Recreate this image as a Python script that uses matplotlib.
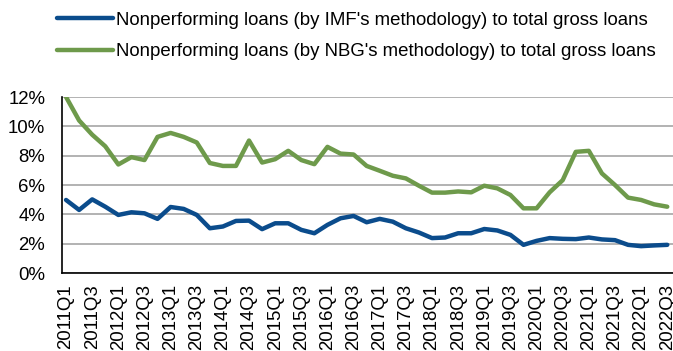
import numpy as np
import matplotlib.pyplot as plt

plt.rcParams["font.family"] = ["Liberation Sans", "DejaVu Sans"]

quarters = [f"{y}Q{q}" for y in range(2011, 2023) for q in range(1, 5)][:47]

npl_imf = [4.98, 4.30, 5.02, 4.52, 3.96, 4.14, 4.07, 3.69, 4.50, 4.37,
           3.96, 3.05, 3.17, 3.55, 3.57, 2.99, 3.39, 3.39, 2.94, 2.71,
           3.28, 3.73, 3.89, 3.46, 3.69, 3.50, 3.05, 2.76, 2.38, 2.42,
           2.71, 2.71, 3.00, 2.90, 2.60, 1.92, 2.19, 2.38, 2.33, 2.31,
           2.42, 2.29, 2.24, 1.92, 1.83, 1.88, 1.92]

npl_nbg = [12.00, 10.40, 9.43, 8.64, 7.40, 7.90, 7.70, 9.28, 9.55, 9.28,
           8.90, 7.50, 7.30, 7.30, 9.03, 7.53, 7.76, 8.33, 7.70, 7.42,
           8.60, 8.14, 8.08, 7.30, 6.97, 6.63, 6.45, 5.95, 5.48, 5.48,
           5.56, 5.50, 5.95, 5.77, 5.32, 4.41, 4.41, 5.50, 6.33, 8.26,
           8.33, 6.79, 6.00, 5.14, 4.98, 4.68, 4.52]

blue = "#0B4C8C"
green = "#6E9A4B"
fs = 13.4

fig = plt.figure(figsize=(6.73, 3.51), dpi=100)
ax = fig.add_axes([62 / 673, 1 - 273 / 351, 611 / 673, 176 / 351])

x = np.arange(len(quarters))
ax.plot(x, npl_imf, color=blue, lw=3.2, solid_capstyle="round",
        label="Nonperforming loans (by IMF's methodology) to total gross loans")
ax.plot(x, npl_nbg, color=green, lw=3.2, solid_capstyle="round",
        label="Nonperforming loans (by NBG's methodology) to total gross loans")

ax.set_xlim(-0.31, 46.44)
ax.set_ylim(0, 12)
ax.set_yticks(np.arange(0, 13, 2))
ax.set_yticklabels([f"{v}%" for v in range(0, 13, 2)], fontsize=fs)
ax.set_xticks(x[::2])
ax.set_xticklabels(quarters[::2], rotation=90, fontsize=fs)
ax.tick_params(axis="y", length=0, pad=12)
ax.tick_params(axis="x", length=0, pad=8)

ax.grid(axis="y", color="#A6A6A6", lw=1.2)
ax.set_axisbelow(True)
for side in ("top", "right"):
    ax.spines[side].set_visible(False)
for side in ("left", "bottom"):
    ax.spines[side].set_color("black")
    ax.spines[side].set_linewidth(1.2)
    ax.spines[side].set_zorder(3)

fig.legend(loc="upper left", bbox_to_anchor=(57 / 673, 1 - 11.5 / 351),
           frameon=False, fontsize=fs, handlelength=3.0, handletextpad=0.15,
           labelspacing=0.8, borderpad=0, borderaxespad=0)

fig.savefig("out.png", dpi=100)
